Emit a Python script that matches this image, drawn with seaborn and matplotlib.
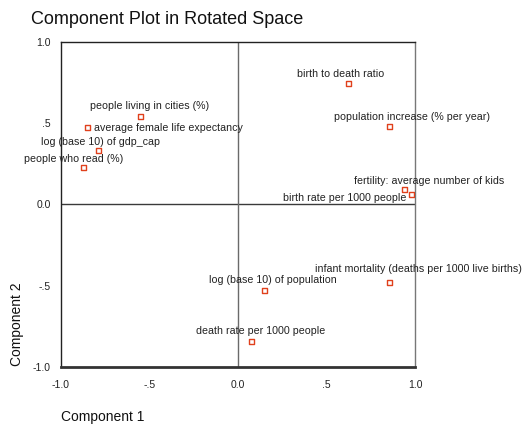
import matplotlib
matplotlib.use("Agg")
import matplotlib.pyplot as plt
import seaborn as sns
import pandas as pd

sns.set_style("white")
plt.rcParams["font.family"] = ["Liberation Sans", "DejaVu Sans"]

variables = [
    "people living in cities (%)",
    "average female life expectancy",
    "log (base 10) of gdp_cap",
    "people who read (%)",
    "birth to death ratio",
    "population increase (% per year)",
    "fertility: average number of kids",
    "birth rate per 1000 people",
    "infant mortality (deaths per 1000 live births)",
    "log (base 10) of population",
    "death rate per 1000 people",
]
component1 = [-0.55, -0.85, -0.79, -0.873, 0.623, 0.856, 0.942, 0.978, 0.858, 0.15, 0.076]
component2 = [0.543, 0.473, 0.33, 0.23, 0.745, 0.48, 0.09, 0.06, -0.477, -0.527, -0.84]

# label placement: (dx, dy) in pixels relative to the point, and alignment
label_pos = [
    (9, 10, "center"),
    (6, 0, "left"),
    (2, 9, "center"),
    (-10, 8, "center"),
    (-8, 9, "center"),
    (22, 9, "center"),
    (24, 9, "center"),
    (-5, -3, "right"),
    (29, 13, "center"),
    (8, 10, "center"),
    (9, 10, "center"),
]

tick_vals = [-1.0, -0.5, 0.0, 0.5, 1.0]
tick_labels = ["-1.0", "-.5", "0.0", ".5", "1.0"]

df = pd.DataFrame({"c1": component1, "c2": component2, "var": variables})

fig = plt.figure(figsize=(5.23, 4.28), dpi=100)
ax = fig.add_axes([0.1166, 0.1425, 0.6769, 0.7594])

ax.axhline(0, color="#3a3a3a", lw=1.0, zorder=1)
ax.axvline(0, color="#6a6a6a", lw=1.0, zorder=1)

sns.scatterplot(data=df, x="c1", y="c2", ax=ax, marker="s", s=13,
                facecolor="none", edgecolor="#e0401c", linewidth=1.0, zorder=3)

for (x, y, name), (dx, dy, ha) in zip(zip(component1, component2, variables), label_pos):
    ax.annotate(name, (x, y), xytext=(dx, dy), textcoords="offset pixels",
                ha=ha, va="center", fontsize=7.7, color="#222222")

ax.set_xlim(-1.0, 1.0)
ax.set_ylim(-1.0, 1.0)
ax.set_xticks(tick_vals)
ax.set_xticklabels(tick_labels)
ax.set_yticks(tick_vals)
ax.set_yticklabels(tick_labels)
ax.tick_params(axis="both", direction="out", length=2, width=3, color="black",
               labelsize=7.5, labelcolor="#222222")
ax.tick_params(axis="x", pad=7)
ax.tick_params(axis="y", pad=5.5)

for side in ["left", "top"]:
    ax.spines[side].set_color("#222222")
    ax.spines[side].set_linewidth(1.0)
ax.spines["right"].set_color("#777777")
ax.spines["right"].set_linewidth(1.0)
ax.spines["bottom"].set_color("#333333")
ax.spines["bottom"].set_linewidth(2.0)

ax.set_xlabel("")
ax.set_ylabel("")

fig.text(31 / 523, 1 - 20 / 428, "Component Plot in Rotated Space",
         fontsize=13.0, ha="left", va="center", color="#111111")
fig.text(61 / 523, 1 - 417 / 428, "Component 1", fontsize=10,
         ha="left", va="center", color="#111111")
fig.text(17 / 523, 1 - 324 / 428, "Component 2", fontsize=10, rotation=90,
         ha="center", va="center", color="#111111")

fig.savefig("out.png", dpi=100)
